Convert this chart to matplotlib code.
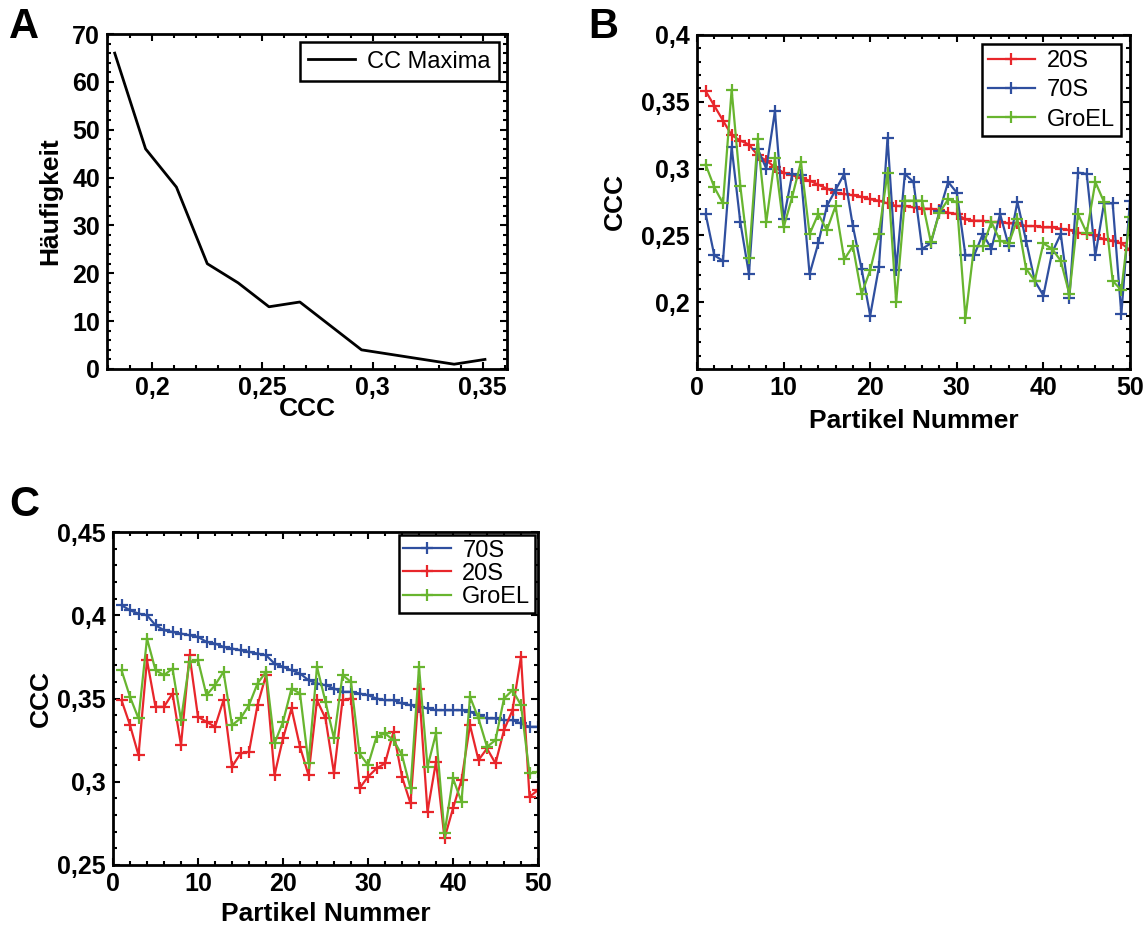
import numpy as np
import matplotlib
matplotlib.use('Agg')
import matplotlib.pyplot as plt
from matplotlib.ticker import MultipleLocator

plt.rcParams['font.family'] = ['Liberation Sans', 'DejaVu Sans']

## Panel A: distribution of CC maxima
hist_ccc = [0.183, 0.197, 0.211, 0.225, 0.239, 0.253, 0.267, 0.281, 0.295, 0.309, 0.323, 0.337, 0.351]
hist_count = [66, 46, 38, 22, 18, 13, 14, 9, 4, 3, 2, 1, 2]

## Panel B: CCC per particle (sorted by 20S)
particles = list(range(1, 51))
b_20s = [0.358, 0.347, 0.336, 0.325, 0.321, 0.318, 0.310, 0.306, 0.301, 0.297,
         0.295, 0.293, 0.291, 0.288, 0.285, 0.282, 0.281, 0.280, 0.279, 0.277,
         0.276, 0.274, 0.272, 0.272, 0.271, 0.270, 0.270, 0.269, 0.267, 0.266,
         0.262, 0.261, 0.261, 0.260, 0.260, 0.259, 0.259, 0.257, 0.257, 0.256,
         0.256, 0.255, 0.254, 0.252, 0.251, 0.250, 0.247, 0.246, 0.244, 0.239]
b_70s = [0.266, 0.235, 0.231, 0.316, 0.260, 0.221, 0.315, 0.300, 0.343, 0.262,
         0.296, 0.295, 0.221, 0.244, 0.272, 0.284, 0.296, 0.257, 0.225, 0.190,
         0.226, 0.323, 0.224, 0.296, 0.290, 0.240, 0.244, 0.268, 0.290, 0.282,
         0.235, 0.235, 0.251, 0.240, 0.266, 0.242, 0.275, 0.246, 0.216, 0.205,
         0.237, 0.251, 0.203, 0.297, 0.296, 0.235, 0.274, 0.274, 0.191, 0.276]
b_groel = [0.303, 0.286, 0.274, 0.359, 0.287, 0.233, 0.322, 0.260, 0.308, 0.256,
           0.279, 0.305, 0.251, 0.266, 0.254, 0.272, 0.232, 0.242, 0.206, 0.224,
           0.251, 0.297, 0.200, 0.276, 0.276, 0.276, 0.245, 0.267, 0.277, 0.275,
           0.188, 0.242, 0.242, 0.260, 0.246, 0.244, 0.262, 0.225, 0.216, 0.244,
           0.240, 0.231, 0.206, 0.266, 0.252, 0.290, 0.275, 0.216, 0.209, 0.264]

## Panel C: CCC per particle (sorted by 70S)
c_70s = [0.406, 0.403, 0.401, 0.400, 0.394, 0.391, 0.390, 0.389, 0.388, 0.387,
         0.384, 0.383, 0.381, 0.380, 0.379, 0.378, 0.377, 0.376, 0.371, 0.369,
         0.367, 0.365, 0.361, 0.359, 0.358, 0.356, 0.354, 0.354, 0.353, 0.352,
         0.350, 0.349, 0.349, 0.347, 0.346, 0.345, 0.344, 0.343, 0.343, 0.343,
         0.343, 0.342, 0.340, 0.338, 0.338, 0.337, 0.337, 0.335, 0.333, 0.333]
c_20s = [0.349, 0.334, 0.316, 0.373, 0.345, 0.345, 0.353, 0.322, 0.376, 0.339,
         0.336, 0.333, 0.349, 0.309, 0.317, 0.318, 0.346, 0.364, 0.304, 0.326,
         0.344, 0.321, 0.304, 0.349, 0.338, 0.305, 0.349, 0.350, 0.296, 0.303,
         0.308, 0.311, 0.330, 0.303, 0.287, 0.356, 0.282, 0.312, 0.266, 0.284,
         0.301, 0.334, 0.313, 0.320, 0.311, 0.331, 0.343, 0.375, 0.291, 0.295]
c_groel = [0.367, 0.351, 0.338, 0.386, 0.367, 0.364, 0.368, 0.337, 0.372, 0.373,
           0.352, 0.358, 0.366, 0.334, 0.338, 0.346, 0.359, 0.366, 0.323, 0.336,
           0.356, 0.353, 0.311, 0.369, 0.348, 0.326, 0.364, 0.360, 0.317, 0.310,
           0.327, 0.329, 0.325, 0.316, 0.296, 0.369, 0.309, 0.329, 0.269, 0.302,
           0.288, 0.351, 0.338, 0.321, 0.325, 0.350, 0.355, 0.346, 0.305, 0.306]

a_xticks = [0.2, 0.25, 0.3, 0.35]
a_xticklabels = ['0,2', '0,25', '0,3', '0,35']
a_yticks = [0, 10, 20, 30, 40, 50, 60, 70]
b_yticks = [0.2, 0.25, 0.3, 0.35, 0.4]
b_yticklabels = ['0,2', '0,25', '0,3', '0,35', '0,4']
c_yticks = [0.25, 0.3, 0.35, 0.4, 0.45]
c_yticklabels = ['0,25', '0,3', '0,35', '0,4', '0,45']
part_ticks = [0, 10, 20, 30, 40, 50]

red = '#e8262b'
blue = '#2f4f9f'
green = '#68b52f'

TICK_FS = 18
LABEL_FS = 19
LEG_FS = 17


def style_axes(ax):
    for sp in ax.spines.values():
        sp.set_linewidth(2.0)
    ax.tick_params(which='both', direction='in', top=True, right=True,
                   width=1.5, labelsize=TICK_FS, pad=5)
    ax.tick_params(which='major', length=5)
    ax.tick_params(which='minor', length=3)
    for lab in ax.get_xticklabels() + ax.get_yticklabels():
        lab.set_fontweight('bold')


def make_legend(ax, pad, spacing, bpad):
    leg = ax.legend(loc='upper right', fontsize=LEG_FS, fancybox=False,
                    edgecolor='black', framealpha=1, handlelength=2.0,
                    borderaxespad=pad, labelspacing=spacing,
                    borderpad=bpad, handletextpad=0.5)
    leg.get_frame().set_linewidth(1.8)
    return leg


fig = plt.figure(figsize=(11.45, 9.3), dpi=100)

## A
ax = fig.add_axes([107 / 1145, 1 - 369 / 930, 400 / 1145, 335 / 930])
ax.plot(hist_ccc, hist_count, 'k-', linewidth=2.0, label='CC Maxima')
ax.set_xlim(0.1795, 0.361)
ax.set_ylim(0, 70)
ax.set_xticks(a_xticks, a_xticklabels)
ax.set_yticks(a_yticks)
ax.xaxis.set_minor_locator(MultipleLocator(0.01))
ax.yaxis.set_minor_locator(MultipleLocator(2))
style_axes(ax)
ax.set_xlabel('CCC', fontsize=LABEL_FS, fontweight='bold')
ax.set_ylabel('Häufigkeit', fontsize=LABEL_FS, fontweight='bold')
ax.xaxis.set_label_coords(0.5, -0.085)
ax.yaxis.set_label_coords(-0.1125, 0.5)
make_legend(ax, 0.35, 0.4, 0.35)

## B
ax = fig.add_axes([697 / 1145, 1 - 369 / 930, 433 / 1145, 334 / 930])
ax.plot(particles, b_20s, '-+', color=red, lw=1.6, ms=9, mew=1.6, label='20S')
ax.plot(particles, b_70s, '-+', color=blue, lw=1.6, ms=9, mew=1.6, label='70S')
ax.plot(particles, b_groel, '-+', color=green, lw=1.6, ms=9, mew=1.6, label='GroEL')
ax.set_xlim(0, 50)
ax.set_ylim(0.15, 0.4)
ax.set_xticks(part_ticks)
ax.set_yticks(b_yticks, b_yticklabels)
ax.xaxis.set_minor_locator(MultipleLocator(2))
ax.yaxis.set_minor_locator(MultipleLocator(0.01))
style_axes(ax)
ax.set_xlabel('Partikel Nummer', fontsize=LABEL_FS, fontweight='bold')
ax.set_ylabel('CCC', fontsize=LABEL_FS, fontweight='bold')
ax.xaxis.set_label_coords(0.5, -0.12)
ax.yaxis.set_label_coords(-0.162, 0.5)
make_legend(ax, 0.4, 0.3, 0.25)

## C
ax = fig.add_axes([113 / 1145, 1 - 865 / 930, 425 / 1145, 333 / 930])
ax.plot(particles, c_70s, '-+', color=blue, lw=1.6, ms=9, mew=1.6, label='70S')
ax.plot(particles, c_20s, '-+', color=red, lw=1.6, ms=9, mew=1.6, label='20S')
ax.plot(particles, c_groel, '-+', color=green, lw=1.6, ms=9, mew=1.6, label='GroEL')
ax.set_xlim(0, 50)
ax.set_ylim(0.25, 0.45)
ax.set_xticks(part_ticks)
ax.set_yticks(c_yticks, c_yticklabels)
ax.xaxis.set_minor_locator(MultipleLocator(2))
ax.yaxis.set_minor_locator(MultipleLocator(0.01))
style_axes(ax)
ax.set_xlabel('Partikel Nummer', fontsize=LABEL_FS, fontweight='bold')
ax.set_ylabel('CCC', fontsize=LABEL_FS, fontweight='bold')
ax.xaxis.set_label_coords(0.5, -0.112)
ax.yaxis.set_label_coords(-0.141, 0.5)
make_legend(ax, 0.12, 0.05, 0.2)

## panel letters
fig.text(0.008, 0.992, 'A', fontsize=30, fontweight='bold', va='top')
fig.text(0.514, 0.992, 'B', fontsize=30, fontweight='bold', va='top')
fig.text(0.008, 0.478, 'C', fontsize=30, fontweight='bold', va='top')

plt.savefig('out.png', dpi=100)
